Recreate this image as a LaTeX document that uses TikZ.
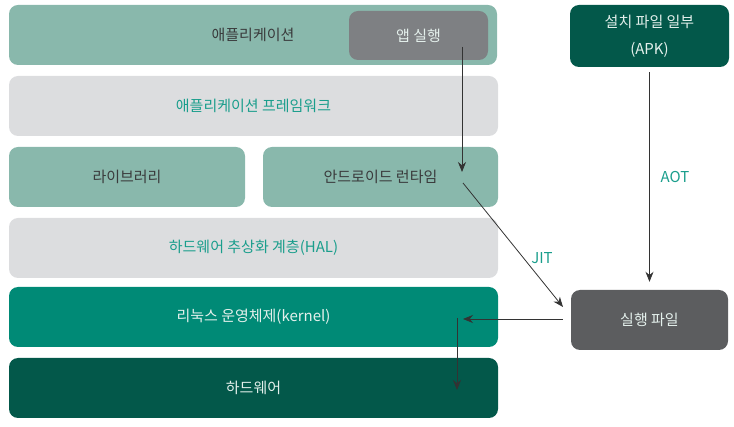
\documentclass[tikz,border=0pt]{standalone}
\usepackage{fontspec}
\setmainfont{Noto Sans CJK KR}
\usetikzlibrary{arrows.meta}
\definecolor{appgreen}{HTML}{89B8AC}
\definecolor{rungray}{HTML}{7E8083}
\definecolor{layergray}{HTML}{DCDDDF}
\definecolor{tealtext}{HTML}{1A9E8C}
\definecolor{kernelgreen}{HTML}{008A76}
\definecolor{darkgreen}{HTML}{03584A}
\definecolor{exegray}{HTML}{5C5D5F}
\definecolor{darktext}{HTML}{3A3B3C}
\definecolor{lighttext}{HTML}{E4F0EC}
\tikzset{
  layer/.style={rounded corners=9pt, minimum height=60pt, inner sep=0pt, font=\fontsize{15}{18}\selectfont},
  arr/.style={draw=black!80, line width=0.8pt, -{Stealth[length=10pt,width=8pt]}}
}

\begin{document}
\begin{tikzpicture}[x=1pt, y=-1pt]
        \useasboundingbox (0,0) rectangle (734,427);
        \node[layer, fill=appgreen, text=darktext, minimum width=488pt] (app) at (253,35) {애플리케이션};
        \node[layer, fill=rungray, text=lighttext, minimum width=139pt, minimum height=49pt] (run) at (418.5,35.5) {앱 실행};
        \node[layer, fill=layergray, text=tealtext, minimum width=489pt] (fw) at (253.5,106) {애플리케이션 프레임워크};
        \node[layer, fill=appgreen, text=darktext, minimum width=236pt] (lib) at (127,177) {라이브러리};
        \node[layer, fill=appgreen, text=darktext, minimum width=235pt] (rt) at (380.5,177) {안드로이드 런타임};
        \node[layer, fill=layergray, text=tealtext, minimum width=489pt] (hal) at (253.5,248) {하드웨어 추상화 계층(HAL)};
        \node[layer, fill=kernelgreen, text=lighttext, minimum width=489pt] (kernel) at (253.5,317) {리눅스 운영체제(kernel)};
        \node[layer, fill=darkgreen, text=lighttext, minimum width=489pt] (hw) at (253.5,388) {하드웨어};
        \node[layer, fill=darkgreen, text=lighttext, minimum width=159pt, minimum height=62pt, align=center, font=\fontsize{15}{27}\selectfont] (apk) at (649.5,36) {설치 파일 일부\\(APK)};
        \node[layer, fill=exegray, text=lighttext, minimum width=157pt] (exe) at (649.5,320) {실행 파일};
        \coordinate (runout) at (462,47);
        \coordinate (rtin) at (462,172);
        \coordinate (rtout) at (463,183);
        \coordinate (jitend) at (563,307);
        \coordinate (kin) at (463,319);
        \coordinate (kout) at (457,318);
        \coordinate (hwin) at (457,390);
        \draw[arr] (runout) -- (rtin);
        \draw[arr] (rtout) -- (jitend);
        \draw[arr, shorten <=5pt, shorten >=8pt] (apk.south) -- (exe.north);
        \draw[arr, shorten <=8pt] (exe.west |- kin) -- (kin);
        \draw[arr] (kout) -- (hwin);
        \node[text=tealtext, font=\fontsize{15}{18}\selectfont] (jit) at (542,258) {JIT};
        \node[text=tealtext, font=\fontsize{15}{18}\selectfont] (aot) at (675,177) {AOT};
    \end{tikzpicture}
\end{document}
